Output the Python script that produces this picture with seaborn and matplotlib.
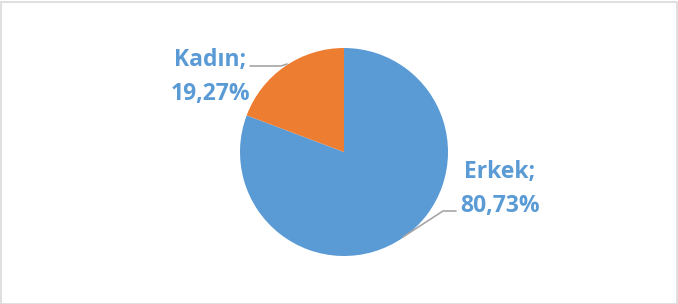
import numpy as np
import matplotlib
matplotlib.use("Agg")
import matplotlib.pyplot as plt
import seaborn as sns

# data
labels = ["Erkek", "Kadın"]
shares = [80.73, 19.27]
colors = ["#5B9BD5", "#ED7D31"]

sns.set_theme(style="white")
plt.rcParams['font.family'] = ['Open Sans', 'DejaVu Sans']

W, H = 678, 304
fig = plt.figure(figsize=(W / 100, H / 100), dpi=100)

# pie centre (344, 152) px, radius 104 px
cx, cy, r = 344, 152, 104
ax = fig.add_axes([(cx - r) / W, (H - cy - r) / H, 2 * r / W, 2 * r / H])
ax.pie(shares, colors=colors, startangle=90, counterclock=False,
       wedgeprops=dict(linewidth=0))
ax.set_xlim(-1, 1)
ax.set_ylim(-1, 1)
ax.set_aspect('equal')
ax.axis('off')

def px(x, y):
    return (x - cx) / r, (cy - y) / r

# label texts
txt = [f"{l};\n{s:.2f}%".replace('.', ',') for l, s in zip(labels, shares)]
label_pos = [px(500, 189), px(210, 77)]
for t, p in zip(txt, label_pos):
    ax.text(p[0], p[1], t, ha='center', va='center', fontsize=16.5,
            fontweight='bold', color='#5B9BD5', linespacing=1.6, clip_on=False)

# leader lines
line_col = '#A6A6A6'
pts = [px(403, 237), px(443, 211), px(456, 211)]
ax.plot([p[0] for p in pts], [p[1] for p in pts], color=line_col, lw=1.2, clip_on=False)
pts = [px(287, 64), px(281, 66), px(250, 66)]
ax.plot([p[0] for p in pts], [p[1] for p in pts], color=line_col, lw=1.2, clip_on=False)

# chart frame
fig.patches.append(plt.Rectangle((0.5 / W, 0.5 / H), 1 - 2 / W, 1 - 2 / H,
                                 transform=fig.transFigure, fill=False,
                                 edgecolor='#D9D9D9', lw=1.2))

fig.savefig('out.png', dpi=100)
